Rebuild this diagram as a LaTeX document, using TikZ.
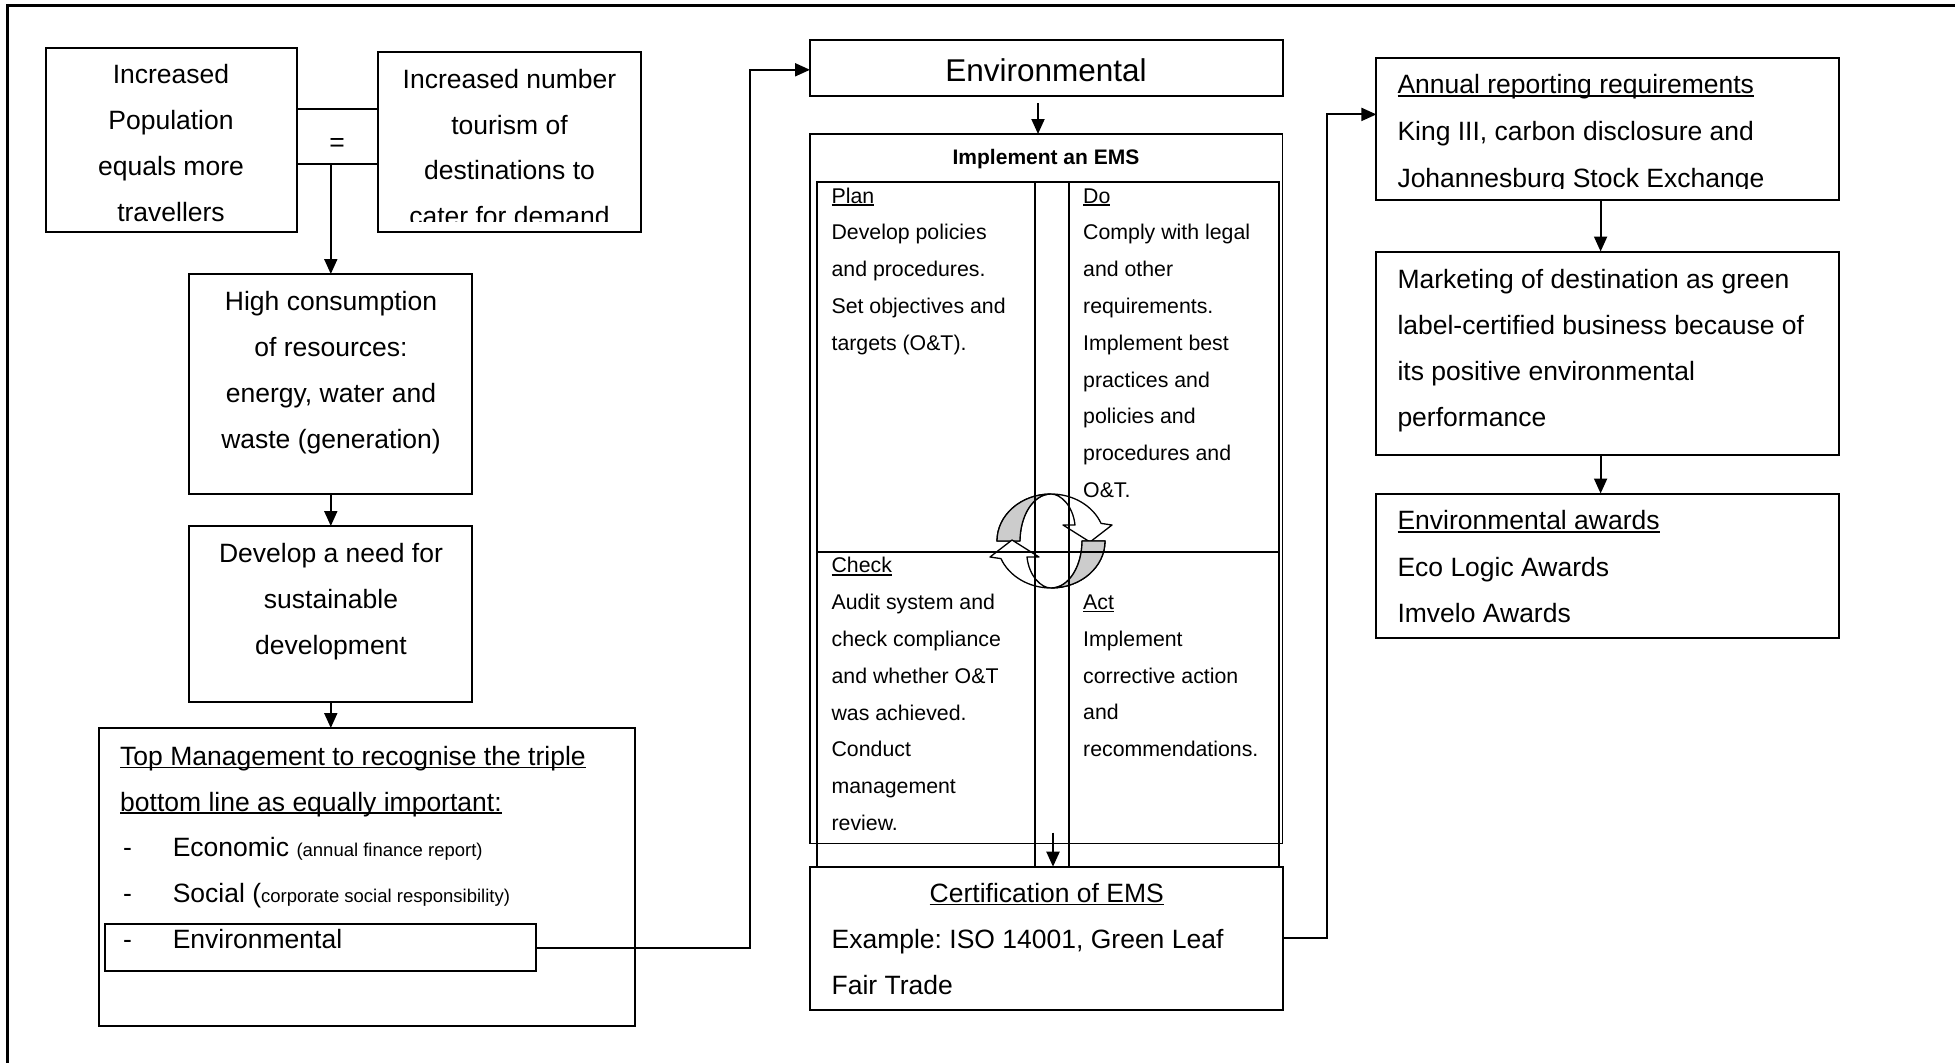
\documentclass[tikz,border=0pt]{standalone}
\usepackage{fontspec}
\setmainfont{Liberation Sans}
\usetikzlibrary{arrows.meta}
\frenchspacing

% underline sitting just under the baseline
\newsavebox\ulbox
\newcommand\ul[1]{\sbox\ulbox{#1}\rlap{\rule[-0.12em]{\wd\ulbox}{0.065em}}\usebox\ulbox}
% fixed height for the first line of a block, so 'north' is predictable
\newcommand\firstln{\rule{0pt}{0.8em}}
\newcommand\smallp[1]{{\fontsize{18.5}{45.8}\selectfont #1}}
\newcommand\dashitem{\makebox[52.6pt][l]{\hspace{3pt}-}}

\begin{document}
\begin{tikzpicture}[x=1pt,y=-1pt,
  box/.style={draw, line width=2pt, inner sep=0pt, outer sep=0pt, anchor=north west},
  gridln/.style={line width=2pt},
  arr/.style={line width=2pt, -{Triangle[length=15pt,width=13pt]}},
  bodytext/.style={inner sep=0pt, font=\fontsize{26.5}{46}\selectfont},
  emstext/.style={inner sep=0pt, anchor=north west, align=left, font=\fontsize{21.3}{36.8}\selectfont},
  cyc/.style={line width=1.3pt, line join=round},
]
\useasboundingbox (0,0) rectangle (1955,1063);

% frame
\draw[line width=3pt] (7.3,1063) -- (7.3,5.7) -- (1955,5.7);

% ---------------- left column ----------------
\node[box, minimum width=251pt, minimum height=184.5pt] (incpop) at (46,47.5) {};
\node[box, minimum width=262.6pt, minimum height=180.6pt] (incnum) at (378,51.7) {};
\node[box, minimum width=81pt, minimum height=54.4pt] (eqbox) at (297,109.3) {};
\node[bodytext, anchor=base] (eqsign) at (337,151.7) {=};

\node[bodytext, anchor=north, align=center] (incpoptxt) at (171,61.8)
  {\firstln Increased\\Population\\equals more\\travellers};
\begin{scope}
  \clip (378,51.7) rectangle (640.6,221);
  \node[bodytext, anchor=north, align=center, font=\fontsize{26.5}{45.5}\selectfont] (incnumtxt) at (509.5,67.3)
    {\firstln Increased number\\tourism of\\destinations to\\cater for demand};
\end{scope}

\node[box, minimum width=282.8pt, minimum height=220.3pt] (highcons) at (189.4,274) {};
\node[bodytext, anchor=north, align=center] (highconstxt) at (331,288.8)
  {\firstln High consumption\\of resources:\\energy, water and\\waste (generation)};

\node[box, minimum width=282.8pt, minimum height=176.3pt] (sustdev) at (189.4,526) {};
\node[bodytext, anchor=north, align=center] (sustdevtxt) at (331,541.1)
  {\firstln Develop a need for\\sustainable\\development};

\node[box, minimum width=535.4pt, minimum height=297.7pt] (topmgmt) at (99.3,728) {};
\node[box, minimum width=431pt, minimum height=47pt] (envitem) at (105.2,924) {};
\node[bodytext, anchor=north west, align=left, font=\fontsize{26.5}{45.8}\selectfont] (topmgmttxt) at (120,743.8)
  {\firstln\ul{Top Management to recognise the triple}\\
   \ul{bottom line as equally important:}\\
   \dashitem Economic \smallp{(annual finance report)}\\
   \dashitem Social (\smallp{corporate social responsibility)}\\
   \dashitem Environmental};

% ---------------- middle column ----------------
\node[box, minimum width=472.5pt, minimum height=56pt] (envhead) at (810,40) {};
\node[inner sep=0pt, anchor=base, font=\fontsize{31.5}{36}\selectfont] (envheadtxt) at (1046,81) {Environmental};

\node[box, minimum width=472.5pt, minimum height=709.6pt, line width=1.6pt] (ems) at (810,134) {};
\node[inner sep=0pt, anchor=base, font=\fontsize{21}{30}\selectfont\bfseries] (emstitle) at (1046,164.6) {Implement an EMS};

% PDCA cycle symbol
\begin{scope}[shift={(1051,541)}]
  \foreach \r in {0,180}{
    \begin{scope}[rotate=\r]
      \filldraw[cyc, fill=white] (-54,0) arc[start angle=180, end angle=338, x radius=54, y radius=47]
        -- (61,-16) -- (39,1) -- (12,-16) -- (24,-16)
        .. controls (22,-35) and (10,-47) .. (0,-47)
        .. controls (-18,-47) and (-31,-25) .. (-31,0) -- cycle;
      \filldraw[cyc, fill=gray!40] (-54,0) arc[start angle=180, end angle=270, x radius=54, y radius=47]
        .. controls (-18,-47) and (-31,-25) .. (-31,0) -- cycle;
    \end{scope}
  }
\end{scope}

% PDCA grid
\draw[gridln] (817,866.7) -- (817,182) -- (1278.6,182) -- (1278.6,866.7);
\draw[gridln] (817,551.8) -- (1278.6,551.8);
\draw[gridln] (1035,182) -- (1035,866.7);
\draw[gridln] (1069,182) -- (1069,866.7);

\node[emstext] (plantxt) at (831.4,185.9)
  {\firstln\ul{Plan}\\Develop policies\\and procedures.\\Set objectives and\\targets (O\&T).};
\node[emstext] (dotxt) at (1083,185.9)
  {\firstln\ul{Do}\\Comply with legal\\and other\\requirements.\\Implement best\\practices and\\policies and\\procedures and\\O\&T.};
\node[emstext] (checktxt) at (831.4,555.7)
  {\firstln\ul{Check}\\Audit system and\\check compliance\\and whether O\&T\\was achieved.\\Conduct\\management\\review.};
\node[emstext] (acttxt) at (1083,592.2)
  {\firstln\ul{Act}\\Implement\\corrective action\\and\\recommendations.};

\node[box, minimum width=472.5pt, minimum height=143pt] (cert) at (810,866.7) {};
\node[bodytext, anchor=base] (certtitle) at (1046.8,902.2) {\ul{Certification of EMS}};
\node[bodytext, anchor=north west, align=left] (certtxt) at (831.4,926.8)
  {\firstln Example: ISO 14001, Green Leaf\\Fair Trade};

% ---------------- right column ----------------
\node[box, minimum width=462.4pt, minimum height=142.6pt] (annual) at (1376.4,57.7) {};
\begin{scope}
  \clip (1376.4,57.7) rectangle (1838.8,188.6);
  \node[bodytext, anchor=north west, align=left, font=\fontsize{26.5}{46.6}\selectfont] (annualtxt) at (1397.3,72.4)
    {\firstln\ul{Annual reporting requirements}\\King III, carbon disclosure and\\Johannesburg Stock Exchange};
\end{scope}

\node[box, minimum width=462.4pt, minimum height=203pt] (mkt) at (1376.4,251.5) {};
\node[bodytext, anchor=north west, align=left, font=\fontsize{26.5}{45.8}\selectfont] (mkttxt) at (1397.3,267.5)
  {\firstln Marketing of destination as green\\label-certified business because of\\its positive environmental\\performance};

\node[box, minimum width=462.4pt, minimum height=144pt] (awards) at (1376.4,493.5) {};
\node[bodytext, anchor=north west, align=left, font=\fontsize{26.5}{46.6}\selectfont] (awardstxt) at (1397.3,508.2)
  {\firstln\ul{Environmental awards}\\Eco Logic Awards\\Imvelo Awards};

% ---------------- connectors ----------------
\coordinate (jL) at (750,69.8);
\coordinate (a1) at (1038,103);
\coordinate (a2) at (1053,832.5);
\coordinate (jR) at (1327.3,114.4);

\draw[arr] (eqbox.south -| highcons.north) -- (highcons.north);
\draw[arr] (highcons.south) -- (sustdev.north);
\draw[arr] (sustdev.south) -- (sustdev.south |- topmgmt.north);
\draw[arr] (envitem.east) -| (jL) -- (jL -| envhead.west);
\draw[arr] (a1) -- (a1 |- ems.north);
\draw[arr] (a2) -- (a2 |- cert.north);
\draw[arr] (cert.east) -| (jR) -- (jR -| annual.west);
\draw[arr] ([xshift=-7pt]annual.south) -- ([xshift=-7pt]mkt.north);
\draw[arr] ([xshift=-7pt]mkt.south) -- ([xshift=-7pt]awards.north);

\end{tikzpicture}
\end{document}
